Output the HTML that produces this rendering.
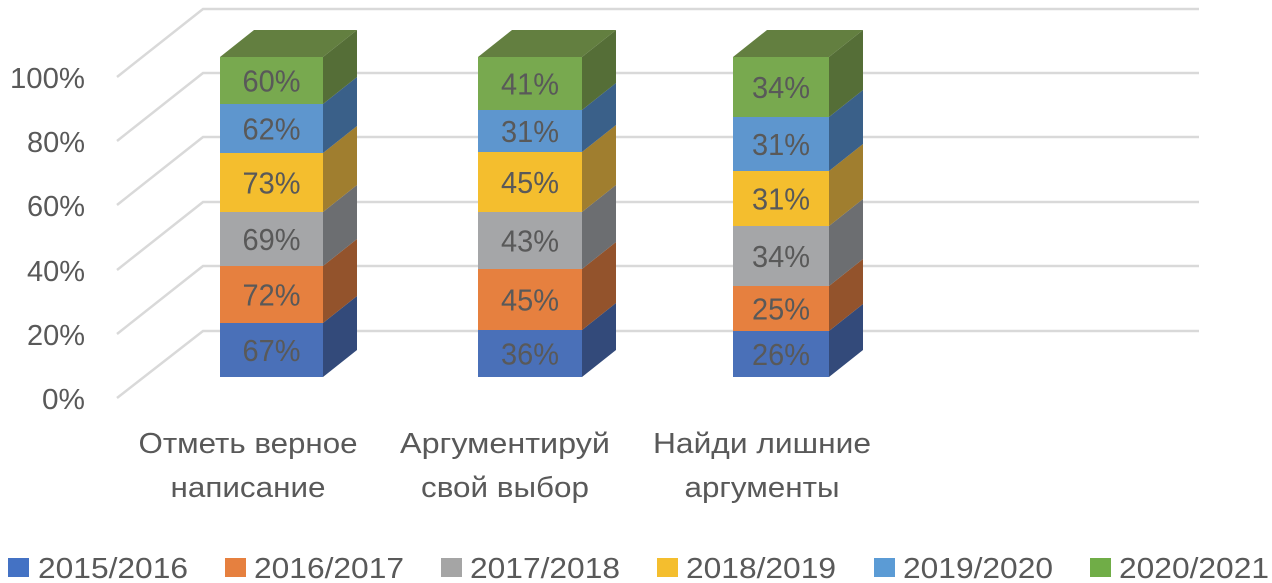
<!DOCTYPE html>
<html><head><meta charset="utf-8"><style>
html,body{margin:0;padding:0;background:#fff;width:1272px;height:583px;overflow:hidden}
text{font-family:"Liberation Sans",sans-serif;fill:#595959}
</style></head><body>
<svg width="1272" height="583" viewBox="0 0 1272 583" xmlns="http://www.w3.org/2000/svg">
<g stroke="#d9d9d9" stroke-width="2.5" fill="none">
<polyline points="117,398 203,331 1199,331"/>
<polyline points="117,334 203,266 1199,266"/>
<polyline points="117,270 203,202 1199,202"/>
<polyline points="117,205 203,137 1199,137"/>
<polyline points="117,141 203,73 1199,73"/>
<polyline points="117,77 203,9 1199,9"/>
</g>
<g font-size="29" text-anchor="end">
<text x="85" y="88" textLength="75" lengthAdjust="spacingAndGlyphs">100%</text>
<text x="85" y="152" textLength="58" lengthAdjust="spacingAndGlyphs">80%</text>
<text x="85" y="216" textLength="58" lengthAdjust="spacingAndGlyphs">60%</text>
<text x="85" y="281" textLength="58" lengthAdjust="spacingAndGlyphs">40%</text>
<text x="85" y="345" textLength="58" lengthAdjust="spacingAndGlyphs">20%</text>
<text x="85" y="409" textLength="43" lengthAdjust="spacingAndGlyphs">0%</text>
</g>
<g id="bars"></g>
<g font-size="29" text-anchor="middle">
<text x="248" y="453" textLength="219" lengthAdjust="spacingAndGlyphs">Отметь верное</text>
<text x="248" y="497" textLength="155" lengthAdjust="spacingAndGlyphs">написание</text>
<text x="505" y="453" textLength="210" lengthAdjust="spacingAndGlyphs">Аргументируй</text>
<text x="505" y="497" textLength="168" lengthAdjust="spacingAndGlyphs">свой выбор</text>
<text x="762" y="453" textLength="218" lengthAdjust="spacingAndGlyphs">Найди лишние</text>
<text x="762" y="497" textLength="155" lengthAdjust="spacingAndGlyphs">аргументы</text>
</g>
<g font-size="29">
<rect x="8" y="558" width="21" height="19" fill="#4472C4"/><text x="38" y="578" textLength="150" lengthAdjust="spacingAndGlyphs">2015/2016</text>
<rect x="225" y="558" width="21" height="19" fill="#E6803F"/><text x="254" y="578" textLength="150" lengthAdjust="spacingAndGlyphs">2016/2017</text>
<rect x="441" y="558" width="21" height="19" fill="#A5A5A5"/><text x="470" y="578" textLength="150" lengthAdjust="spacingAndGlyphs">2017/2018</text>
<rect x="657" y="558" width="21" height="19" fill="#F4BE2E"/><text x="686" y="578" textLength="150" lengthAdjust="spacingAndGlyphs">2018/2019</text>
<rect x="874" y="558" width="21" height="19" fill="#5B9BD5"/><text x="903" y="578" textLength="150" lengthAdjust="spacingAndGlyphs">2019/2020</text>
<rect x="1090" y="558" width="21" height="19" fill="#70AD47"/><text x="1119" y="578" textLength="150" lengthAdjust="spacingAndGlyphs">2020/2021</text>
</g>
</svg>
<script>
var front=["#4A70B8","#E6803F","#A5A6A8","#F4BE2E","#5E96CE","#78A94F"];
var side=["#334A7A","#93532C","#6C6E71","#A07E2F","#3A6089","#556E37"];
var bars=[
 {x:220,w:103,b:[377,323,266,212,153,104,57],l:["67%","72%","69%","73%","62%","60%"]},
 {x:478,w:104,b:[377,330,269,212,152,110,57],l:["36%","45%","43%","45%","31%","41%"]},
 {x:733,w:96,b:[377,331,286,226,171,117,57],l:["26%","25%","34%","31%","31%","34%"]}];
var dx=34,dy=-27,g=document.getElementById("bars"),h="";
bars.forEach(function(B){
 for(var i=0;i<6;i++){
  var y0=B.b[i],y1=B.b[i+1],xr=B.x+B.w;
  h+='<rect x="'+B.x+'" y="'+y1+'" width="'+B.w+'" height="'+(y0-y1)+'" fill="'+front[i]+'"/>';
  h+='<polygon points="'+xr+','+y0+' '+(xr+dx)+','+(y0+dy)+' '+(xr+dx)+','+(y1+dy)+' '+xr+','+y1+'" fill="'+side[i]+'"/>';
  h+='<text x="'+(B.x+B.w/2)+'" y="'+((y0+y1)/2+11)+'" font-size="31" text-anchor="middle" textLength="58" lengthAdjust="spacingAndGlyphs">'+B.l[i]+'</text>';
 }
 var t=B.b[6],xr=B.x+B.w;
 h+='<polygon points="'+B.x+','+t+' '+(B.x+dx)+','+(t+dy)+' '+(xr+dx)+','+(t+dy)+' '+xr+','+t+'" fill="#637F40"/>';
});
g.innerHTML=h;
</script>
</body></html>
